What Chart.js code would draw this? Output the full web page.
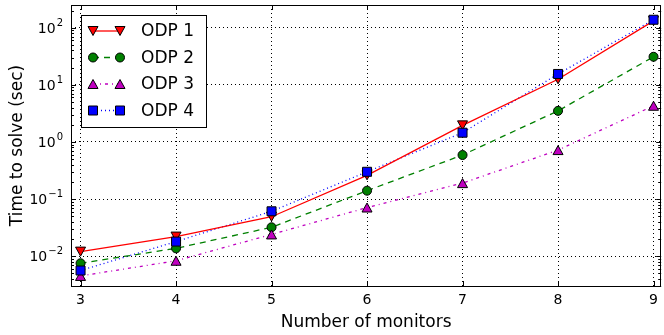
<!DOCTYPE html>
<html>
<head>
<meta charset="utf-8">
<script src="https://cdn.jsdelivr.net/npm/chart.js@4/dist/chart.umd.min.js"></script>
<style>
  html, body { margin: 0; padding: 0; background: #fff; }
  #wrap { width: 664px; height: 335px; }
</style>
</head>
<body>
<div id="wrap"><canvas id="c" width="664" height="335"></canvas></div>
<script>
// valores (escala log)
const monitors = [3, 4, 5, 6, 7, 8, 9];
const odp1 = [0.012, 0.022, 0.049, 0.26, 1.95, 12.5, 132];
const odp2 = [0.0075, 0.0137, 0.032, 0.14, 0.59, 3.5, 31];
const odp3 = [0.0045, 0.0083, 0.024, 0.071, 0.19, 0.72, 4.3];
const odp4 = [0.0056, 0.018, 0.061, 0.30, 1.45, 15.5, 138];
const seriesNames = ['ODP 1', 'ODP 2', 'ODP 3', 'ODP 4'];
const yTicks = [0.01, 0.1, 1, 10, 100];
const yTickExp = ['-2', '-1', '0', '1', '2'];

const FONT = 'DejaVu Sans';

const styles = [
  { color: '#ff0000', dash: [], marker: 'tdown' },
  { color: '#008000', dash: [6, 5], marker: 'circle' },
  { color: '#bf00bf', dash: [3, 4, 1, 4], marker: 'tup' },
  { color: '#0000ff', dash: [1, 3], marker: 'square' }
];

const pts = arr => monitors.map((m, i) => ({ x: m, y: arr[i] }));

function drawMarker(ctx, kind, x, y, fill) {
  ctx.save();
  ctx.setLineDash([]);
  ctx.fillStyle = fill;
  ctx.strokeStyle = '#000';
  ctx.lineWidth = 1;
  ctx.beginPath();
  if (kind === 'circle') {
    ctx.arc(x, y, 4.5, 0, Math.PI * 2);
  } else if (kind === 'square') {
    ctx.rect(x - 4.5, y - 4.5, 9, 9);
  } else if (kind === 'tdown') {
    ctx.moveTo(x - 5, y - 4.5); ctx.lineTo(x + 5, y - 4.5); ctx.lineTo(x, y + 4.5); ctx.closePath();
  } else {
    ctx.moveTo(x - 5, y + 4.5); ctx.lineTo(x + 5, y + 4.5); ctx.lineTo(x, y - 4.5); ctx.closePath();
  }
  ctx.fill();
  ctx.stroke();
  ctx.restore();
}

// marcadores, moldura, ticks internos, rótulos 10^n e legenda no estilo matplotlib
const decor = {
  id: 'decor',
  afterDatasetsDraw(chart) {
    const { ctx, scales: { x, y } } = chart;
    chart.data.datasets.forEach((ds, i) => {
      ds.data.forEach(p => drawMarker(ctx, styles[i].marker, x.getPixelForValue(p.x), y.getPixelForValue(p.y), styles[i].color));
    });
  },
  afterDraw(chart) {
    const { ctx, chartArea: a, scales: { x, y } } = chart;
    ctx.save();
    ctx.strokeStyle = '#000';
    ctx.lineWidth = 1;
    ctx.setLineDash([]);
    ctx.beginPath();
    monitors.forEach(m => {
      const px = Math.round(x.getPixelForValue(m)) + 0.5;
      ctx.moveTo(px, a.bottom); ctx.lineTo(px, a.bottom - 5);
      ctx.moveTo(px, a.top); ctx.lineTo(px, a.top + 5);
    });
    for (let e = -3; e <= 2; e++) {
      for (let k = 1; k <= 9; k++) {
        const v = k * Math.pow(10, e);
        if (v < y.min || v > y.max) continue;
        const py = Math.round(y.getPixelForValue(v)) + 0.5;
        const len = k === 1 ? 5 : 3;
        ctx.moveTo(a.left, py); ctx.lineTo(a.left + len, py);
        ctx.moveTo(a.right, py); ctx.lineTo(a.right - len, py);
      }
    }
    ctx.stroke();
    ctx.strokeRect(Math.round(a.left) + 0.5, Math.round(a.top) + 0.5, Math.round(a.right - a.left) - 1, Math.round(a.bottom - a.top));

    // rótulos do eixo y: 10 com expoente
    ctx.fillStyle = '#000';
    ctx.textBaseline = 'alphabetic';
    ctx.textAlign = 'left';
    yTicks.forEach((v, i) => {
      const py = y.getPixelForValue(v);
      const exp = yTickExp[i].replace('-', '\u2212');
      ctx.font = '10px "' + FONT + '"';
      const ew = ctx.measureText(exp).width;
      ctx.font = '14px "' + FONT + '"';
      const bw = ctx.measureText('10').width;
      const right = a.left - 8;
      const bx = right - ew - bw - 1;
      ctx.fillText('10', bx, py + 5);
      ctx.font = '10px "' + FONT + '"';
      ctx.fillText(exp, bx + bw + 1, py - 2);
    });

    // legenda
    const lx = 81.5, ly = 15.5, lw = 125, lh = 112;
    ctx.fillStyle = '#fff';
    ctx.fillRect(lx, ly, lw, lh);
    ctx.strokeRect(lx, ly, lw, lh);
    ctx.font = '17px "' + FONT + '"';
    ctx.textBaseline = 'middle';
    ctx.textAlign = 'left';
    seriesNames.forEach((name, i) => {
      const ry = 31 + i * 26.5;
      const s = styles[i];
      ctx.strokeStyle = s.color;
      ctx.lineWidth = 1.3;
      ctx.setLineDash(s.dash);
      ctx.beginPath();
      ctx.moveTo(93, ry); ctx.lineTo(120, ry);
      ctx.stroke();
      drawMarker(ctx, s.marker, 93, ry, s.color);
      drawMarker(ctx, s.marker, 120, ry, s.color);
      ctx.fillStyle = '#000';
      ctx.fillText(name, 141, ry + 1);
    });
    ctx.restore();
  }
};

const datasets = [odp1, odp2, odp3, odp4].map((arr, i) => ({
  label: seriesNames[i],
  data: pts(arr),
  borderColor: styles[i].color,
  borderWidth: 1.3,
  borderDash: styles[i].dash,
  pointRadius: 0,
  fill: false,
  tension: 0
}));

new Chart(document.getElementById('c'), {
  type: 'line',
  data: { datasets },
  options: {
    responsive: false,
    animation: false,
    layout: { padding: { top: 5, right: 1, left: 0, bottom: 0 } },
    plugins: { legend: { display: false }, tooltip: { enabled: false } },
    scales: {
      x: {
        type: 'linear',
        min: 2.9,
        max: 9.08,
        afterBuildTicks: s => { s.ticks = monitors.map(v => ({ value: v })); },
        afterFit: s => { s.height = 49; },
        border: { display: false, dash: [1, 3] },
        grid: { color: '#000', drawTicks: false, lineWidth: 1 },
        ticks: { color: '#000', padding: 6, font: { family: FONT, size: 14 }, maxRotation: 0, callback: v => String(v) },
        title: { display: true, text: 'Number of monitors', color: '#000', font: { family: FONT, size: 17 }, padding: { top: 0, bottom: 2 } }
      },
      y: {
        type: 'logarithmic',
        min: 0.003,
        max: 250,
        afterBuildTicks: s => { s.ticks = yTicks.map(v => ({ value: v })); },
        afterFit: s => { s.width = 71; },
        border: { display: false, dash: [1, 3] },
        grid: { color: '#000', drawTicks: false, lineWidth: 1 },
        ticks: { display: false },
        title: { display: true, text: 'Time to solve (sec)', color: '#000', font: { family: FONT, size: 17 }, padding: { top: 7, bottom: 0 } }
      }
    }
  },
  plugins: [decor]
});
</script>
</body>
</html>
